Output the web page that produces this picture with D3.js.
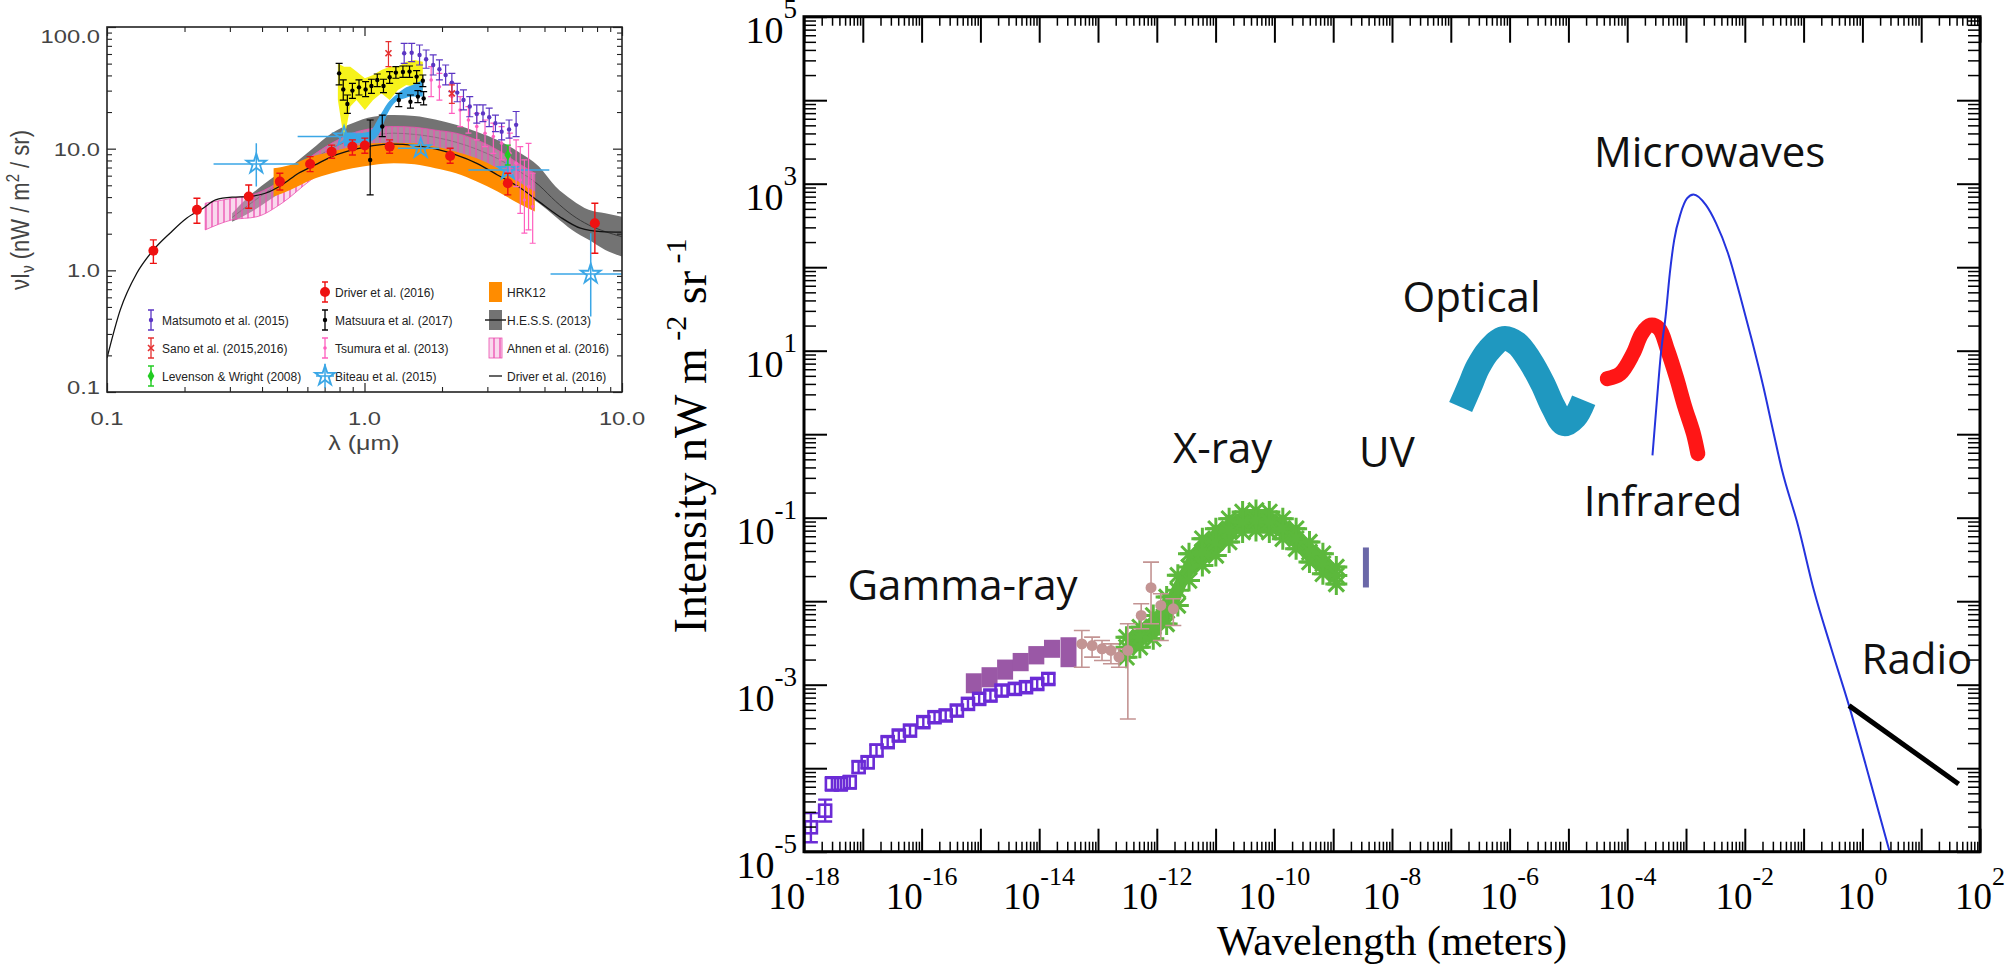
<!DOCTYPE html>
<html><head><meta charset="utf-8"><title>Cosmic background spectrum</title>
<script src="https://cdn.jsdelivr.net/npm/d3@7/dist/d3.min.js"></script>
<style>html,body{margin:0;padding:0;background:#fff;overflow:hidden}svg{display:block}</style>
</head><body>
<svg id="chart" width="2016" height="965"></svg>
<script>
// ================= DATA : right panel (wavelength m, intensity nW m^-2 sr^-1) =================
const gammaLAT = [ // [lambda, I, lo, hi]
[1.31e-18,1.96e-5,1.3e-5,2.9e-5],[2.29e-18,3.10e-5,2.3e-5,4.2e-5],[2.98e-18,6.48e-5,5.4e-5,7.8e-5],
[4.23e-18,6.48e-5,5.4e-5,7.8e-5],[6.00e-18,6.79e-5,5.7e-5,8.1e-5],[8.49e-18,1.03e-4,8.8e-5,1.2e-4],
[1.21e-17,1.18e-4,1.0e-4,1.37e-4],[1.71e-17,1.63e-4,1.4e-4,1.9e-4],[2.65e-17,2.05e-4,1.78e-4,2.36e-4],
[4.10e-17,2.46e-4,2.14e-4,2.83e-4],[6.35e-17,2.82e-4,2.45e-4,3.24e-4],[1.07e-16,3.56e-4,3.1e-4,4.1e-4],
[1.66e-16,4.08e-4,3.55e-4,4.7e-4],[2.57e-16,4.28e-4,3.72e-4,4.92e-4],[3.98e-16,4.90e-4,4.26e-4,5.64e-4],
[6.15e-16,5.89e-4,5.12e-4,6.77e-4],[9.53e-16,6.76e-4,5.88e-4,7.78e-4],[1.48e-15,7.41e-4,6.44e-4,8.52e-4],
[2.29e-15,8.51e-4,7.4e-4,9.79e-4],[3.86e-15,8.91e-4,7.75e-4,1.02e-3],[5.97e-15,9.33e-4,8.11e-4,1.07e-3],
[9.25e-15,1.02e-3,8.87e-4,1.17e-3],[1.43e-14,1.17e-3,1.02e-3,1.35e-3]
];
const gammaBoxes = [ // [lambda, lo, hi]
[7.73e-16,7.9e-4,1.37e-3],[1.43e-15,9.3e-4,1.62e-3],[2.63e-15,1.15e-3,2.0e-3],[4.84e-15,1.45e-3,2.4e-3],
[8.93e-15,1.75e-3,2.9e-3],[1.65e-14,2.1e-3,3.45e-3],[3.15e-14,1.62e-3,3.7e-3]
];
const hardXray = [ // [lambda, I, lo, hi]
[5.31e-14,3.08e-3,1.62e-3,4.46e-3],[7.94e-14,2.94e-3,2.14e-3,3.71e-3],[1.17e-13,2.69e-3,1.95e-3,3.38e-3],
[1.66e-13,2.57e-3,1.78e-3,3.08e-3],[2.27e-13,2.14e-3,1.62e-3,2.69e-3],[3.22e-13,2.57e-3,3.89e-4,5.36e-3],
[5.43e-13,6.75e-3,4.67e-3,9.31e-3],[7.98e-13,1.45e-2,5.36e-3,2.94e-2],[1.17e-12,8.89e-3,3.38e-3,1.23e-2],
[1.91e-12,8.11e-3,5.12e-3,1.07e-2]
];
const xray = [ // [lambda, I, lo, hi]
[3.05e-13,2.81e-3,2.13e-3,3.70e-3],[5.15e-13,3.71e-3,2.81e-3,4.89e-3],[8.71e-13,4.89e-3,3.54e-3,6.75e-3],
[1.47e-12,7.74e-3,5.35e-3,1.12e-2],[2.28e-12,1.35e-2,8.9e-3,2.04e-2],[3.53e-12,2.56e-2,1.77e-2,3.70e-2],
[5.96e-12,3.87e-2,2.68e-2,5.60e-2],[1.01e-11,5.10e-2,3.53e-2,7.38e-2],[1.70e-11,7.05e-2,5.11e-2,9.73e-2],
[2.88e-11,8.87e-2,6.73e-2,0.117],[4.86e-11,9.29e-2,7.05e-2,0.122],[8.20e-11,8.87e-2,6.73e-2,0.117],
[1.39e-10,7.38e-2,5.60e-2,9.73e-2],[2.34e-10,5.60e-2,4.25e-2,7.38e-2],[3.95e-10,3.87e-2,2.94e-2,5.10e-2],
[6.68e-10,2.81e-2,2.13e-2,3.70e-2],[1.13e-9,2.03e-2,1.61e-2,2.56e-2]
];
const uvBar = [[3.6e-9,0.0146,0.044]]; // [lambda, lo, hi]
const optical = [[1.47e-7,2.11],[2.07e-7,3.67],[2.90e-7,6.38],[4.42e-7,10.1],[7.96e-7,14.0],[1.32e-6,12.2],
[2.20e-6,7.67],[3.65e-6,4.04],[5.56e-6,2.11],[8.49e-6,1.34],[1.29e-5,1.61],[1.82e-5,2.55]];
const infrared = [[4.58e-5,4.63],[7.60e-5,5.32],[1.26e-4,9.25],[1.77e-4,16.0],[2.48e-4,20.2],[3.48e-4,18.4],
[4.88e-4,10.1],[6.84e-4,4.84],[9.57e-4,2.11],[1.34e-3,1.01],[1.59e-3,0.585]];
const microwave = [[2.69e-4,0.557],[3.20e-4,2.55],[3.79e-4,10.1],[4.49e-4,25.4],[5.30e-4,84],[6.28e-4,210],
[8.10e-4,440],[1.04e-3,665],[1.34e-3,743],[2.19e-3,553],[3.24e-3,337],[5.18e-3,147],[8.28e-3,46],
[1.32e-2,13.3],[2.04e-2,3.85],[3.02e-2,1.11],[4.30e-2,0.369],[8.04e-2,0.0807],[0.150,0.0134],
[0.292,2.79e-3],[0.592,5.62e-4],[1.35,7.10e-5],[2.94,9.7e-6]];
const radio = [[0.592,5.62e-4],[43.3,6.47e-5]];
const bandLabels = [["Gamma-ray",5.5e-18,1.02e-2],["X-ray",1.89e-12,0.448],["UV",2.75e-9,0.40],
["Optical",1.51e-8,28.8],["Microwaves",2.72e-5,1580],["Infrared",1.82e-5,0.106],["Radio",0.968,1.36e-3]];
const xTickExps = [-18,-16,-14,-12,-10,-8,-6,-4,-2,0,2];
const yTickExps = [-5,-3,-1,1,3,5];

// ================= DATA : left panel (lambda um, nu I_nu nW m^-2 sr^-1) =================
const driverModel = [[0.100,0.19],[0.1126,0.473],[0.1305,0.946],[0.1514,1.47],[0.1756,2.02],[0.2037,2.68],
[0.2362,3.24],[0.2640,3.79],[0.3062,3.99],[0.3551,4.04],[0.4119,4.30],[0.4777,5.03],[0.5541,6.28],
[0.6427,7.35],[0.7455,8.60],[0.8975,9.76],[1.080,10.6],[1.300,10.9],[1.564,10.6],[1.883,9.95],[2.267,8.88],
[2.729,7.58],[3.285,6.08],[3.954,4.88],[4.759,3.67],[5.728,2.76],[6.894,2.22],[8.298,2.08],[9.986,2.06]];
const hessBand = [[0.3062,2.51,2.94],[0.3551,2.94,4.04],[0.4274,3.79,5.53],[0.5145,4.88,7.12],[0.6193,6.28,9.76],
[0.7455,7.58,13.4],[0.8975,8.60,16.2],[1.080,9.16,18.3],[1.300,9.45,18.9],[1.564,9.28,18.6],[1.883,8.88,17.4],
[2.267,8.08,15.7],[2.729,7.12,13.8],[3.285,5.89,11.8],[3.954,4.58,9.45],[4.759,3.56,7.12],[5.519,2.76,4.88],
[6.401,2.15,3.79],[7.424,1.78,3.14],[8.610,1.47,2.94],[9.986,1.30,2.76]];
const hessLine = [[0.3062,2.72],[0.3551,3.45],[0.4274,4.58],[0.5145,5.89],[0.6193,7.83],[0.7455,10.1],[0.8975,11.8],
[1.080,12.9],[1.300,13.4],[1.564,13.1],[1.883,12.4],[2.267,11.3],[2.729,9.9],[3.285,8.3],[3.954,6.6],[4.759,5.0],
[5.519,3.7],[6.401,2.85],[7.424,2.36],[8.610,2.08],[9.986,1.89]];
const hrk12Band = [[0.4436,4.04,6.90],[0.5145,4.58,7.35],[0.6193,5.53,8.60],[0.7455,6.28,9.45],[0.8975,6.90,10.4],
[1.080,7.35,11.07],[1.300,7.58,11.2],[1.564,7.44,11.07],[1.883,6.90,10.4],[2.267,6.28,9.45],[2.729,5.36,8.33],
[3.285,4.44,6.90],[3.954,3.56,5.36],[4.585,3.04,4.44]];
const ahnenBand = [[0.2406,2.15,3.56],[0.3062,2.60,3.91],[0.3825,2.76,4.30],[0.4777,3.56,5.53],[0.6193,5.53,8.60],
[0.7455,7.12,11.07],[0.8975,8.60,13.4],[1.080,9.45,14.7],[1.300,9.76,15.2],[1.564,9.64,15.0],[1.883,9.16,14.2],
[2.267,8.33,13.4],[2.729,7.35,11.8],[3.285,5.89,9.76],[3.954,4.58,7.58],[4.585,3.79,6.28]];
const matsuuraBand = [[0.788,25.1,50.3],[0.833,11.8,47.2],[0.881,22.2,47.2],[0.931,25.1,43.0],[1.003,20.8,37.9],
[1.080,25.1,40.3],[1.163,28.5,44.3],[1.252,25.1,47.2],[1.349,30.4,47.2],[1.453,33.4,51.9],[1.564,32.3,53.6],
[1.685,29.4,51.9]];
const biteauBand = [[0.833,10.4,13.4],[0.931,11.07,13.4],[1.041,11.4,13.8],[1.142,13.4,18.3],[1.229,19.5,23.6],
[1.324,24.3,27.6],[1.426,25.9,31.3],[1.536,26.8,33.4],[1.685,26.8,36.7]];
const biteauPts = [ // [lambda, v, lamLo, lamHi, vLo, vHi]
[0.380,7.49,0.2593,0.5541,4.88,11.07],[0.833,12.56,0.550,0.931,11.07,13.8],[1.654,10.07,1.349,1.954,9.16,11.07],
[3.602,6.68,2.533,5.220,5.19,8.60],[7.560,0.934,5.278,9.986,0.417,2.02]];
const driverPts = [ // [lambda, v, lo, hi]
[0.1514,1.45,1.14,1.78],[0.2235,3.14,2.44,3.91],[0.3551,4.04,3.24,5.03],[0.4691,5.36,4.58,6.28],
[0.6148,7.49,6.48,8.60],[0.7455,9.45,8.33,10.7],[0.8975,10.4,8.88,11.8],[1.003,10.6,9.16,12.2],
[1.252,10.4,9.16,11.8],[2.151,8.71,7.58,10.07],[3.602,5.19,4.17,6.28],[7.845,2.44,1.38,3.56]];
const matsuuraPts = [
[0.797,41.6,33.4,50.3],[0.827,30.7,25.1,36.7],[0.858,23.3,19.5,27.6],[0.8975,30.0,25.9,34.4],[0.952,31.9,27.6,36.7],
[1.010,30.7,26.8,35.5],[1.064,32.7,28.5,37.2],[1.121,36.7,32.3,41.1],[1.185,32.7,28.9,37.2],[1.252,38.6,34.4,43.0],
[1.324,42.2,37.9,47.2],[1.410,42.7,38.6,47.8],[1.496,43.0,38.6,47.8],[1.594,39.1,34.4,43.8],[1.685,36.2,32.3,40.3],
[1.359,25.1,22.2,28.5],[1.508,24.3,21.5,27.6],[1.612,26.8,23.9,30.0],[1.697,25.9,22.9,29.4],
[1.052,8.08,4.17,17.2],[1.172,15.2,12.56,18.9]];
const matsumotoPts = [
[1.426,60.8,50.3,73.4],[1.525,61.5,51.9,73.4],[1.636,58.9,48.7,71.1],[1.735,54.3,45.8,64.7],[1.848,48.7,40.3,58.9],
[1.954,44.9,36.7,53.6],[2.066,40.3,33.4,48.7],[2.184,34.9,29.4,41.6],[2.292,28.9,24.3,34.4],[2.423,25.1,20.8,30.4],
[2.563,22.2,18.3,26.8],[2.729,19.3,16.2,22.9],[2.885,19.5,16.7,22.9],[3.050,18.1,15.2,21.5],[3.225,16.2,13.8,18.9],
[3.408,13.8,11.8,16.2],[3.643,14.4,12.2,17.2],[3.880,15.7,12.56,20.2]];
const tsumuraPts = [
[1.815,36.7,26.8,47.2],[1.954,32.3,25.1,41.6],[2.184,26.8,19.5,34.4],[2.352,20.8,15.2,26.8],[2.533,17.2,13.4,22.2],
[2.729,15.2,11.8,19.5],[2.938,13.4,10.4,17.2],[3.165,12.56,9.16,16.2],[3.408,11.07,8.08,15.2],[3.670,9.16,6.28,13.4],
[3.880,7.58,4.88,11.8],[4.027,5.53,2.94,10.4],[4.178,3.79,2.02,8.08],[4.336,4.88,2.15,11.07],[4.499,3.34,1.67,6.28]];
const sanoPts = [[1.239,60.8,47.2,75.8],[2.184,28.5,23.6,33.4]];
const levensonPts = [[3.602,8.88,7.35,10.7]];
const leftXTicks = [0.1,1,10];
const leftYTicks = [0.1,1,10,100];
const legendCol1 = ["Matsumoto et al. (2015)","Sano et al. (2015,2016)","Levenson & Wright (2008)"];
const legendCol2 = ["Driver et al. (2016)","Matsuura et al. (2017)","Tsumura et al. (2013)","Biteau et al. (2015)"];
const legendCol3 = ["HRK12","H.E.S.S. (2013)","Ahnen et al. (2016)","Driver et al. (2016)"];

// ================= DRAWING =================
const svg = d3.select("#chart");
const defs = svg.append("defs");
defs.append("clipPath").attr("id","clipR").append("rect").attr("x",804).attr("y",16.7).attr("width",1176).attr("height",835);
defs.append("clipPath").attr("id","clipL").append("rect").attr("x",107).attr("y",27).attr("width",515).attr("height",365);
const hatch = defs.append("pattern").attr("id","hatch").attr("patternUnits","userSpaceOnUse").attr("width",6).attr("height",40);
hatch.append("line").attr("x1",2).attr("x2",2).attr("y1",0).attr("y2",40).attr("stroke","#ec4fb0").attr("stroke-width",1.3);

function ebPath(x,y1,y2,c){return `M${x},${y1}V${y2}M${x-c},${y1}H${x+c}M${x-c},${y2}H${x+c}`;}
function asterisk(cx,cy,r){const d=r*0.7;return `M${cx-r},${cy}H${cx+r}M${cx},${cy-r}V${cy+r}M${cx-d},${cy-d}L${cx+d},${cy+d}M${cx-d},${cy+d}L${cx+d},${cy-d}`;}
function minorVals(e0,e1){const r=[];for(let e=e0;e<e1;e++)for(let m=2;m<10;m++)r.push(m*Math.pow(10,e));return r;}
function majorVals(e0,e1){const r=[];for(let e=e0;e<=e1;e++)r.push(Math.pow(10,e));return r;}
function drawAxis(g,axis,vals,size,sw,col){
  g.call(axis.tickValues(vals).tickSize(size).tickFormat(""));
  g.select(".domain").remove(); g.selectAll("text").remove();
  g.selectAll("line").attr("stroke",col).attr("stroke-width",sw);
}

// ---------- RIGHT PANEL ----------
const xr = d3.scaleLog().domain([1e-18,1e2]).range([804,1980]);
const yr = d3.scaleLog().domain([1e-5,1e5]).range([851.7,16.7]);
const R = svg.append("g");
const RP = R.append("g").attr("clip-path","url(#clipR)");

RP.selectAll("rect.gbox").data(gammaBoxes).join("rect").attr("class","gbox")
  .attr("x",d=>xr(d[0])-8).attr("width",16).attr("y",d=>yr(d[2])).attr("height",d=>yr(d[1])-yr(d[2]))
  .attr("fill","#9a58a6");
RP.selectAll("path.geb").data(gammaLAT).join("path").attr("class","geb")
  .attr("d",d=>ebPath(xr(d[0]),yr(d[2]),yr(d[3]),7)).attr("stroke","#6b2bd6").attr("stroke-width",2.4).attr("fill","none");
RP.selectAll("rect.gsq").data(gammaLAT).join("rect").attr("class","gsq")
  .attr("x",d=>xr(d[0])-6).attr("y",d=>yr(d[1])-6).attr("width",12).attr("height",12)
  .attr("fill","none").attr("stroke","#6b2bd6").attr("stroke-width",2.6);
const xArea = d3.area().x(d=>xr(d[0])).y0(d=>yr(d[2])).y1(d=>yr(d[3])).curve(d3.curveMonotoneX);
RP.append("path").datum(xray).attr("d",xArea).attr("fill","#5cb83c");
RP.selectAll("path.xeb").data(xray).join("path").attr("class","xeb")
  .attr("d",d=>ebPath(xr(d[0]),yr(d[2]),yr(d[3]),9)).attr("stroke","#5cb83c").attr("stroke-width",3);
RP.selectAll("path.xast").data(xray.flatMap(d=>[[d[0],d[2]],[d[0],d[3]],[d[0],d[1]]])).join("path").attr("class","xast")
  .attr("d",d=>asterisk(xr(d[0]),yr(d[1]),11)).attr("stroke","#5cb83c").attr("stroke-width",3);
RP.selectAll("path.heb").data(hardXray).join("path").attr("class","heb")
  .attr("d",d=>ebPath(xr(d[0]),yr(d[2]),yr(d[3]),8)).attr("stroke","#c39493").attr("stroke-width",1.6).attr("fill","none");
RP.selectAll("circle.hc").data(hardXray).join("circle").attr("class","hc")
  .attr("cx",d=>xr(d[0])).attr("cy",d=>yr(d[1])).attr("r",5.5).attr("fill","#c39493");
RP.selectAll("line.uv").data(uvBar).join("line").attr("class","uv")
  .attr("x1",d=>xr(d[0])).attr("x2",d=>xr(d[0])).attr("y1",d=>yr(d[1])).attr("y2",d=>yr(d[2]))
  .attr("stroke","#6b68a8").attr("stroke-width",6);
const lineR = d3.line().x(d=>xr(d[0])).y(d=>yr(d[1])).curve(d3.curveCatmullRom.alpha(0.5));
RP.append("path").datum(optical).attr("d",lineR).attr("fill","none").attr("stroke","#1f98c0")
  .attr("stroke-width",25).attr("stroke-linejoin","round");
RP.append("path").datum(infrared).attr("d",lineR).attr("fill","none").attr("stroke","#ff1616")
  .attr("stroke-width",15).attr("stroke-linecap","round").attr("stroke-linejoin","round");
RP.append("path").datum(microwave).attr("d",d3.line().x(d=>xr(d[0])).y(d=>yr(d[1])).curve(d3.curveMonotoneX))
  .attr("fill","none").attr("stroke","#2433dd").attr("stroke-width",2);
RP.append("path").datum(radio).attr("d",d3.line().x(d=>xr(d[0])).y(d=>yr(d[1])))
  .attr("fill","none").attr("stroke","#000").attr("stroke-width",5);

drawAxis(R.append("g").attr("transform","translate(0,851.7)"),d3.axisBottom(xr),majorVals(-18,2),-23,2,"#000");
drawAxis(R.append("g").attr("transform","translate(0,851.7)"),d3.axisBottom(xr),minorVals(-18,2),-10,1.5,"#000");
drawAxis(R.append("g").attr("transform","translate(0,16.7)"),d3.axisTop(xr),majorVals(-18,2),-26,2,"#000");
drawAxis(R.append("g").attr("transform","translate(0,16.7)"),d3.axisTop(xr),minorVals(-18,2),-9,1.5,"#000");
drawAxis(R.append("g").attr("transform","translate(804,0)"),d3.axisLeft(yr),majorVals(-5,5),-23,2,"#000");
drawAxis(R.append("g").attr("transform","translate(804,0)"),d3.axisLeft(yr),minorVals(-5,5),-12,1.5,"#000");
drawAxis(R.append("g").attr("transform","translate(1980,0)"),d3.axisRight(yr),majorVals(-5,5),-23,2,"#000");
drawAxis(R.append("g").attr("transform","translate(1980,0)"),d3.axisRight(yr),minorVals(-5,5),-12,1.5,"#000");
R.append("rect").attr("x",804).attr("y",16.7).attr("width",1176).attr("height",835)
  .attr("fill","none").attr("stroke","#000").attr("stroke-width",3);

const serif = "'Liberation Serif','Times New Roman',serif";
function supLabel(sel,e,big,small,rise){
  sel.append("tspan").attr("font-size",big).text("10");
  sel.append("tspan").attr("font-size",small).attr("dy",-rise).text(e<0?"-"+Math.abs(e):String(e));
}
xTickExps.forEach(e=>{
  const t=R.append("text").attr("x",xr(Math.pow(10,e))).attr("y",909).attr("text-anchor","middle")
    .attr("font-family",serif).attr("fill","#000");
  supLabel(t,e,37,26,24);
});
yTickExps.forEach(e=>{
  const t=R.append("text").attr("x",797).attr("y",yr(Math.pow(10,e))+26).attr("text-anchor","end")
    .attr("font-family",serif).attr("fill","#000");
  supLabel(t,e,38,27,25);
});
R.append("text").attr("x",1392).attr("y",955).attr("text-anchor","middle").attr("font-family",serif)
  .attr("font-size",42).attr("fill","#000").text("Wavelength (meters)");
const yt = R.append("text").attr("transform","translate(706,436) rotate(-90)").attr("text-anchor","middle")
  .attr("font-family",serif).attr("font-size",46).attr("fill","#000");
yt.append("tspan").text("Intensity nW m");
yt.append("tspan").attr("font-size",30).attr("dy",-20).text(" -2");
yt.append("tspan").attr("font-size",46).attr("dy",20).text(" sr");
yt.append("tspan").attr("font-size",30).attr("dy",-20).text(" -1");

R.selectAll("text.band").data(bandLabels).join("text").attr("class","band")
  .attr("x",d=>xr(d[1])).attr("y",d=>yr(d[2])).attr("font-family","'Open Sans','Noto Sans',sans-serif")
  .attr("font-size",42).attr("fill","#111").text(d=>d[0]);

// ---------- LEFT PANEL ----------
const xl = d3.scaleLog().domain([0.1,10]).range([107,622]);
const yl = d3.scaleLog().domain([0.1,100]).range([392,27]);
const L = svg.append("g");
const LP = L.append("g").attr("clip-path","url(#clipL)");
const bandL = d3.area().x(d=>xl(d[0])).y0(d=>yl(d[1])).y1(d=>yl(d[2]));
const lineL = d3.line().x(d=>xl(d[0])).y(d=>yl(d[1]));
LP.append("path").datum(hessBand).attr("d",bandL.curve(d3.curveMonotoneX)).attr("fill","#737373");
LP.append("path").datum(hessLine).attr("d",lineL.curve(d3.curveMonotoneX)).attr("fill","none").attr("stroke","#3a3a3a").attr("stroke-width",1);
LP.append("path").datum(ahnenBand).attr("d",bandL).attr("fill","#f2a9d6").attr("fill-opacity",0.45);
LP.append("path").datum(ahnenBand).attr("d",bandL).attr("fill","url(#hatch)").attr("stroke","#ec4fb0").attr("stroke-width",0.8);
LP.append("path").datum(hrk12Band).attr("d",bandL).attr("fill","#ff8c00");
LP.append("path").datum(matsuuraBand).attr("d",d3.area().x(d=>xl(d[0])).y0(d=>yl(d[1])).y1(d=>yl(d[2])))
  .attr("fill","#f6f21a");
LP.append("path").datum(biteauBand).attr("d",d3.area().x(d=>xl(d[0])).y0(d=>yl(d[1])).y1(d=>yl(d[2])).curve(d3.curveMonotoneX))
  .attr("fill","#3ba7e6");
LP.append("path").datum(driverModel).attr("d",d3.line().x(d=>xl(d[0])).y(d=>yl(d[1])).curve(d3.curveMonotoneX))
  .attr("fill","none").attr("stroke","#111").attr("stroke-width",1.3);

function ptsL(data,col,cap,sw,r,cls){
  LP.selectAll("path."+cls).data(data).join("path").attr("class",cls)
    .attr("d",d=>ebPath(xl(d[0]),yl(d[2]),yl(d[3]),cap)).attr("stroke",col).attr("stroke-width",sw).attr("fill","none");
  if(r>0) LP.selectAll("circle."+cls).data(data).join("circle").attr("class",cls)
    .attr("cx",d=>xl(d[0])).attr("cy",d=>yl(d[1])).attr("r",r).attr("fill",col);
}
LP.selectAll("path.bterr").data(biteauPts).join("path").attr("class","bterr")
  .attr("d",d=>`M${xl(d[2])},${yl(d[1])}H${xl(d[3])}M${xl(d[0])},${yl(d[4])}V${yl(d[5])}`)
  .attr("stroke","#3ba7e6").attr("stroke-width",1.5).attr("fill","none");
const starSym = d3.symbol().type(d3.symbolStar).size(120);
LP.selectAll("path.bstar").data(biteauPts).join("path").attr("class","bstar")
  .attr("transform",d=>`translate(${xl(d[0])},${yl(d[1])})`).attr("d",starSym)
  .attr("fill","none").attr("stroke","#3ba7e6").attr("stroke-width",1.8);
ptsL(tsumuraPts,"#ff5fbf",3,1.2,1.8,"ts");
ptsL(matsumotoPts,"#5b35c4",3.5,1.2,2.2,"mm");
ptsL(matsuuraPts,"#000",3.5,1.2,2.2,"mu");
ptsL(driverPts,"#ee1111",3.5,1.4,5,"dr");
ptsL(sanoPts,"#e53030",3,1.2,0,"sa");
LP.selectAll("path.sx").data(sanoPts).join("path").attr("class","sx")
  .attr("d",d=>{const x=xl(d[0]),y=yl(d[1]);return `M${x-3},${y-3}L${x+3},${y+3}M${x-3},${y+3}L${x+3},${y-3}`;})
  .attr("stroke","#e53030").attr("stroke-width",1.6);
ptsL(levensonPts,"#22cc22",3,1.4,0,"lw");
LP.selectAll("path.lwd").data(levensonPts).join("path").attr("class","lwd")
  .attr("transform",d=>`translate(${xl(d[0])},${yl(d[1])})`).attr("d",d3.symbol().type(d3.symbolDiamond).size(40))
  .attr("fill","#22cc22");

const lx = "#222";
drawAxis(L.append("g").attr("transform","translate(0,392)"),d3.axisBottom(xl),leftXTicks,-9,1.2,lx);
drawAxis(L.append("g").attr("transform","translate(0,392)"),d3.axisBottom(xl),minorVals(-1,1),-5,1.1,lx);
drawAxis(L.append("g").attr("transform","translate(0,27)"),d3.axisTop(xl),leftXTicks,-9,1.2,lx);
drawAxis(L.append("g").attr("transform","translate(0,27)"),d3.axisTop(xl),minorVals(-1,1),-5,1.1,lx);
drawAxis(L.append("g").attr("transform","translate(107,0)"),d3.axisLeft(yl),leftYTicks,-9,1.2,lx);
drawAxis(L.append("g").attr("transform","translate(107,0)"),d3.axisLeft(yl),minorVals(-1,2),-5,1.1,lx);
drawAxis(L.append("g").attr("transform","translate(622,0)"),d3.axisRight(yl),leftYTicks,-9,1.2,lx);
drawAxis(L.append("g").attr("transform","translate(622,0)"),d3.axisRight(yl),minorVals(-1,2),-5,1.1,lx);
L.append("rect").attr("x",107).attr("y",27).attr("width",515).attr("height",365)
  .attr("fill","none").attr("stroke","#222").attr("stroke-width",1.6);

const sans = "'Liberation Sans',Arial,sans-serif";
function sText(x,y,txt,anchor,size,sx,col){
  return L.append("text").attr("transform",`translate(${x},${y}) scale(${sx},1)`).attr("text-anchor",anchor)
    .attr("font-family",sans).attr("font-size",size).attr("fill",col||"#333").text(txt);
}
const fmt = d3.format(".1f");
leftYTicks.forEach(v=>{ const y=Math.min(Math.max(yl(v),36),387); sText(100,y+7,fmt(v),"end",19,1.25,"#444"); });
leftXTicks.forEach(v=>{ sText(xl(v),425,fmt(v),"middle",19,1.25,"#444"); });
sText(364,450,"λ (μm)","middle",20,1.25,"#444");
const ylab = L.append("text").attr("transform","translate(29,210) rotate(-90) scale(1,1.2)").attr("text-anchor","middle")
  .attr("font-family",sans).attr("font-size",22).attr("fill","#444");
ylab.append("tspan").text("νI");
ylab.append("tspan").attr("font-size",15).attr("dy",4).text("ν");
ylab.append("tspan").attr("dy",-4).text("  (nW / m");
ylab.append("tspan").attr("font-size",15).attr("dy",-8).text("2");
ylab.append("tspan").attr("dy",8).text(" / sr)");

const rowsY = [292,320,348,376];
legendCol1.forEach((t,i)=>sText(162,rowsY[i+1]+4.5,t,"start",12,1.0,"#222"));
legendCol2.forEach((t,i)=>sText(335,rowsY[i]+4.5,t,"start",12,1.0,"#222"));
legendCol3.forEach((t,i)=>sText(507,rowsY[i]+4.5,t,"start",12,1.0,"#222"));
const lg = L.append("g");
function legEb(x,y,col,r,sw){
  lg.append("path").attr("d",ebPath(x,y-10,y+10,3)).attr("stroke",col).attr("stroke-width",sw||1.3).attr("fill","none");
  if(r) lg.append("circle").attr("cx",x).attr("cy",y).attr("r",r).attr("fill",col);
}
legEb(151,rowsY[1],"#5b35c4",2.2);
legEb(151,rowsY[2],"#e53030",0);
lg.append("path").attr("d",`M148,${rowsY[2]-3}L154,${rowsY[2]+3}M148,${rowsY[2]+3}L154,${rowsY[2]-3}`).attr("stroke","#e53030").attr("stroke-width",1.6);
legEb(151,rowsY[3],"#22cc22",0,1.4);
lg.append("path").attr("transform",`translate(151,${rowsY[3]})`).attr("d",d3.symbol().type(d3.symbolDiamond).size(40)).attr("fill","#22cc22");
legEb(325,rowsY[0],"#ee1111",5,1.4);
legEb(325,rowsY[1],"#000",2.2);
legEb(325,rowsY[2],"#ff5fbf",1.8);
lg.append("path").attr("d",`M316,${rowsY[3]}H334M325,${rowsY[3]-12}V${rowsY[3]+12}`).attr("stroke","#3ba7e6").attr("stroke-width",1.5);
lg.append("path").attr("transform",`translate(325,${rowsY[3]})`).attr("d",d3.symbol().type(d3.symbolStar).size(120))
  .attr("fill","none").attr("stroke","#3ba7e6").attr("stroke-width",1.8);
lg.append("rect").attr("x",489).attr("y",rowsY[0]-10).attr("width",13).attr("height",20).attr("fill","#ff8c00");
lg.append("rect").attr("x",489).attr("y",rowsY[1]-10).attr("width",13).attr("height",20).attr("fill","#737373");
lg.append("line").attr("x1",485).attr("x2",506).attr("y1",rowsY[1]).attr("y2",rowsY[1]).attr("stroke","#222").attr("stroke-width",1.5);
lg.append("rect").attr("x",489).attr("y",rowsY[2]-10).attr("width",13).attr("height",20).attr("fill","#f2a9d6").attr("fill-opacity",0.45);
lg.append("rect").attr("x",489).attr("y",rowsY[2]-10).attr("width",13).attr("height",20).attr("fill","url(#hatch)").attr("stroke","#ec4fb0").attr("stroke-width",0.8);
lg.append("line").attr("x1",489).attr("x2",502).attr("y1",rowsY[3]).attr("y2",rowsY[3]).attr("stroke","#111").attr("stroke-width",1.3);
</script></body></html>
